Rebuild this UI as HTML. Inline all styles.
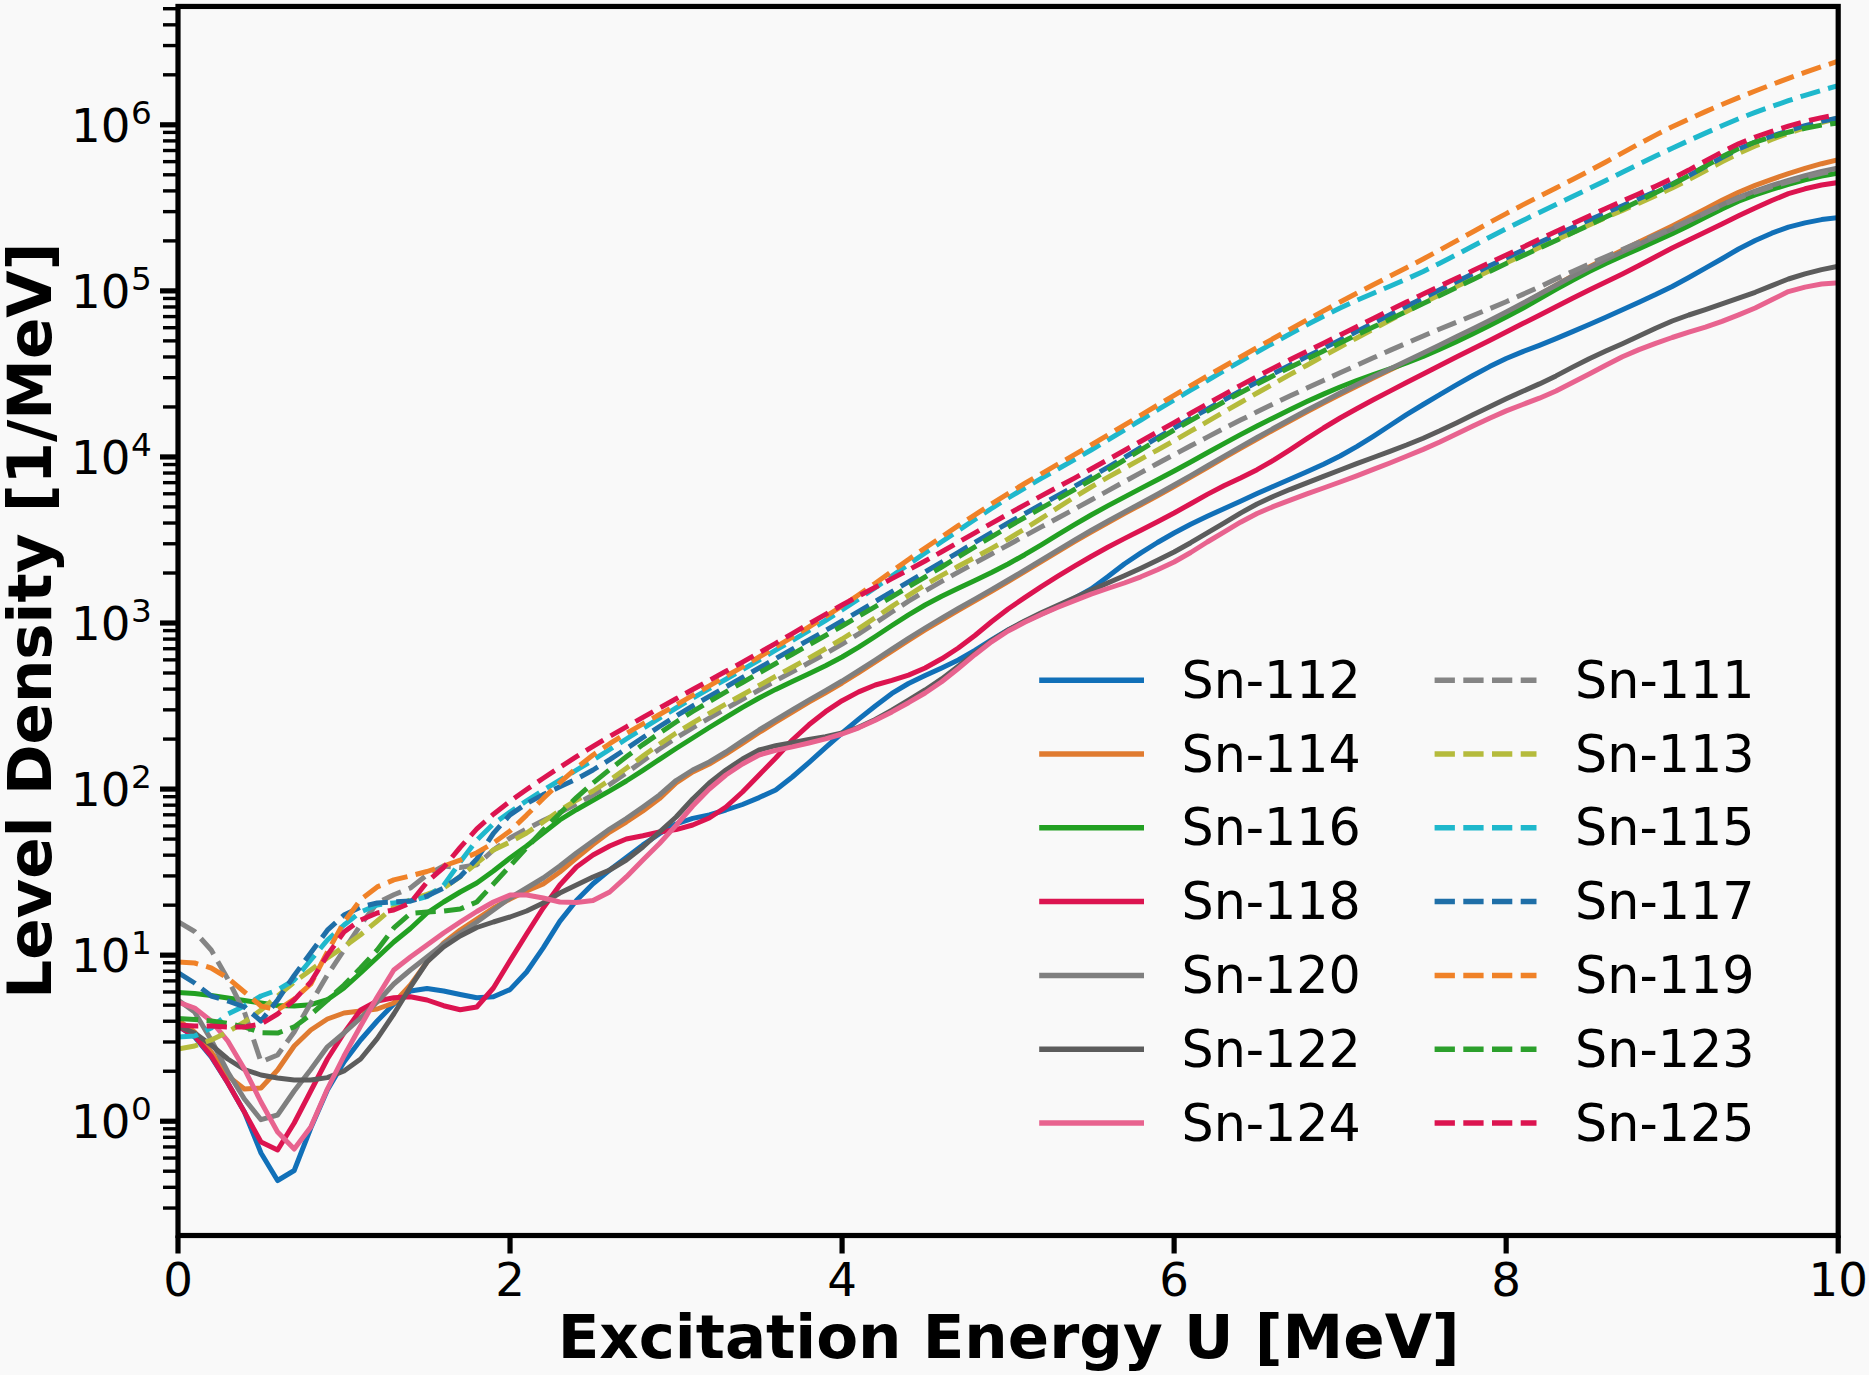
<!DOCTYPE html>
<html lang="en"><head><meta charset="utf-8"><title>Level Density</title>
<style>html,body{margin:0;padding:0;background:#f9f9f9;}body{width:1869px;height:1375px;overflow:hidden}</style></head>
<body>
<svg width="1869" height="1375" viewBox="0 0 1869 1375" style="display:block">
<rect width="1869" height="1375" fill="#f9f9f9"/>
<defs><clipPath id="ax"><rect x="178.0" y="6.45" width="1660.2" height="1229.05"/></clipPath></defs>
<g clip-path="url(#ax)" fill="none" stroke-linejoin="round">
<path d="M178.0 1026.0 L194.6 1037.0 L211.2 1057.0 L227.8 1083.0 L244.4 1112.0 L261.0 1153.0 L277.6 1180.5 L294.2 1170.5 L310.8 1128.0 L327.4 1090.0 L344.0 1062.0 L360.6 1040.0 L377.2 1021.0 L393.8 1004.0 L410.4 991.0 L427.0 988.5 L443.6 991.0 L460.2 994.5 L476.8 997.7 L493.4 996.8 L510.0 989.6 L526.6 972.0 L543.2 947.8 L559.8 921.4 L576.4 900.5 L593.0 883.8 L609.7 870.0 L626.3 857.4 L642.9 844.9 L659.5 833.7 L676.1 824.0 L692.7 818.4 L709.3 815.0 L725.9 810.0 L742.5 804.5 L759.1 797.6 L775.7 790.0 L792.3 777.0 L808.9 762.6 L825.5 747.6 L842.1 733.0 L858.7 719.2 L875.3 706.0 L891.9 693.4 L908.5 683.5 L925.1 675.5 L941.7 667.9 L958.3 660.0 L974.9 650.4 L991.5 639.9 L1008.1 630.0 L1024.7 621.6 L1041.3 613.9 L1057.9 606.4 L1074.5 598.3 L1091.1 589.0 L1107.7 576.8 L1124.3 564.0 L1140.9 552.9 L1157.5 542.5 L1174.1 533.0 L1190.7 524.3 L1207.3 516.3 L1223.9 508.7 L1240.5 501.2 L1257.1 493.6 L1273.7 486.2 L1290.3 479.0 L1306.9 471.8 L1323.5 464.2 L1340.1 456.0 L1356.7 446.6 L1373.3 436.3 L1389.9 425.5 L1406.5 414.7 L1423.2 404.5 L1439.8 394.7 L1456.4 384.9 L1473.0 375.5 L1489.6 366.6 L1506.2 358.5 L1522.8 351.6 L1539.4 345.3 L1556.0 338.6 L1572.6 331.6 L1589.2 324.5 L1605.8 317.2 L1622.4 309.8 L1639.0 302.2 L1655.6 294.6 L1672.2 286.5 L1688.8 277.5 L1705.4 268.1 L1722.0 258.7 L1738.6 249.0 L1755.2 240.5 L1771.8 233.2 L1788.4 227.1 L1805.0 222.9 L1821.6 219.6 L1838.2 217.5" stroke="#1170b8" stroke-width="5.0" stroke-linecap="square"/>
<path d="M178.0 1020.0 L194.6 1032.0 L211.2 1052.0 L227.8 1076.0 L244.4 1089.0 L261.0 1088.0 L277.6 1070.0 L294.2 1046.0 L310.8 1030.0 L327.4 1019.0 L344.0 1013.0 L360.6 1011.0 L377.2 1009.0 L393.8 1003.0 L410.4 985.0 L427.0 962.0 L443.6 943.0 L460.2 930.0 L476.8 919.0 L493.4 908.0 L510.0 899.0 L526.6 891.0 L543.2 884.0 L559.8 872.0 L576.4 858.0 L593.0 844.5 L609.7 832.0 L626.3 822.0 L642.9 811.0 L659.5 798.6 L676.1 783.0 L692.7 772.0 L709.3 764.0 L725.9 754.2 L742.5 743.3 L759.1 732.5 L775.7 722.2 L792.3 712.0 L808.9 702.1 L825.5 692.7 L842.1 683.0 L858.7 672.7 L875.3 662.0 L891.9 651.1 L908.5 640.4 L925.1 630.0 L941.7 620.1 L958.3 610.4 L974.9 600.8 L991.5 591.3 L1008.1 581.6 L1024.7 571.7 L1041.3 561.6 L1057.9 551.6 L1074.5 541.7 L1091.1 532.0 L1107.7 522.7 L1124.3 513.6 L1140.9 504.7 L1157.5 495.7 L1174.1 486.5 L1190.7 477.1 L1207.3 467.5 L1223.9 457.9 L1240.5 448.3 L1257.1 439.0 L1273.7 429.8 L1290.3 420.8 L1306.9 411.9 L1323.5 403.1 L1340.1 394.5 L1356.7 386.2 L1373.3 378.0 L1389.9 370.1 L1406.5 362.1 L1423.2 354.0 L1439.8 345.9 L1456.4 337.9 L1473.0 329.8 L1489.6 321.5 L1506.2 313.0 L1522.8 304.1 L1539.4 294.7 L1556.0 285.3 L1572.6 275.9 L1589.2 267.0 L1605.8 258.5 L1622.4 250.2 L1639.0 242.1 L1655.6 234.1 L1672.2 226.0 L1688.8 217.6 L1705.4 208.9 L1722.0 200.3 L1738.6 192.3 L1755.2 185.4 L1771.8 179.3 L1788.4 173.6 L1805.0 168.4 L1821.6 163.7 L1838.2 159.7" stroke="#e07b30" stroke-width="5.0" stroke-linecap="square"/>
<path d="M178.0 992.5 L194.6 993.5 L211.2 995.5 L227.8 998.0 L244.4 1000.5 L261.0 1003.0 L277.6 1005.5 L294.2 1006.0 L310.8 1004.7 L327.4 999.7 L344.0 988.0 L360.6 973.0 L377.2 957.5 L393.8 942.0 L410.4 928.5 L427.0 913.0 L443.6 902.0 L460.2 892.0 L476.8 883.0 L493.4 871.0 L510.0 858.0 L526.6 846.0 L543.2 833.0 L559.8 820.0 L576.4 809.7 L593.0 800.3 L609.7 790.8 L626.3 781.0 L642.9 770.4 L659.5 759.3 L676.1 748.5 L692.7 738.0 L709.3 727.5 L725.9 717.3 L742.5 707.4 L759.1 698.0 L775.7 689.4 L792.3 681.5 L808.9 673.7 L825.5 665.7 L842.1 657.0 L858.7 647.2 L875.3 636.5 L891.9 625.5 L908.5 614.8 L925.1 605.0 L941.7 596.3 L958.3 588.3 L974.9 580.5 L991.5 572.5 L1008.1 564.0 L1024.7 554.7 L1041.3 544.8 L1057.9 534.6 L1074.5 524.6 L1091.1 515.0 L1107.7 505.9 L1124.3 497.1 L1140.9 488.4 L1157.5 479.8 L1174.1 471.0 L1190.7 462.0 L1207.3 452.8 L1223.9 443.6 L1240.5 434.6 L1257.1 426.0 L1273.7 417.7 L1290.3 409.5 L1306.9 401.6 L1323.5 394.1 L1340.1 387.0 L1356.7 380.5 L1373.3 374.6 L1389.9 368.9 L1406.5 363.0 L1423.2 356.5 L1439.8 349.3 L1456.4 341.7 L1473.0 333.7 L1489.6 325.4 L1506.2 317.0 L1522.8 308.2 L1539.4 298.9 L1556.0 289.4 L1572.6 280.2 L1589.2 271.5 L1605.8 263.5 L1622.4 256.0 L1639.0 248.6 L1655.6 241.3 L1672.2 233.8 L1688.8 225.7 L1705.4 217.2 L1722.0 208.9 L1738.6 201.2 L1755.2 194.8 L1771.8 189.4 L1788.4 184.4 L1805.0 179.9 L1821.6 176.1 L1838.2 173.0" stroke="#22a022" stroke-width="5.0" stroke-linecap="square"/>
<path d="M178.0 1026.0 L194.6 1036.0 L211.2 1056.0 L227.8 1083.0 L244.4 1112.0 L261.0 1142.0 L277.6 1150.0 L294.2 1123.0 L310.8 1091.0 L327.4 1059.0 L344.0 1033.0 L360.6 1010.0 L377.2 1001.0 L393.8 997.7 L410.4 996.8 L427.0 1000.0 L443.6 1005.7 L460.2 1009.7 L476.8 1007.0 L493.4 988.0 L510.0 960.7 L526.6 934.0 L543.2 908.0 L559.8 885.0 L576.4 867.0 L593.0 855.0 L609.7 846.0 L626.3 839.0 L642.9 835.8 L659.5 832.0 L676.1 829.6 L692.7 825.0 L709.3 818.0 L725.9 807.0 L742.5 792.0 L759.1 775.0 L775.7 758.0 L792.3 740.0 L808.9 724.8 L825.5 711.7 L842.1 700.7 L858.7 691.9 L875.3 685.0 L891.9 680.4 L908.5 675.1 L925.1 668.0 L941.7 658.8 L958.3 648.0 L974.9 635.5 L991.5 621.8 L1008.1 609.0 L1024.7 597.6 L1041.3 586.6 L1057.9 576.2 L1074.5 566.2 L1091.1 556.5 L1107.7 547.3 L1124.3 538.6 L1140.9 530.2 L1157.5 521.7 L1174.1 513.0 L1190.7 503.7 L1207.3 494.4 L1223.9 485.8 L1240.5 478.0 L1257.1 469.7 L1273.7 460.1 L1290.3 449.6 L1306.9 438.7 L1323.5 428.0 L1340.1 418.0 L1356.7 408.7 L1373.3 399.8 L1389.9 391.1 L1406.5 382.6 L1423.2 374.0 L1439.8 365.5 L1456.4 357.1 L1473.0 348.7 L1489.6 340.4 L1506.2 332.0 L1522.8 323.6 L1539.4 315.2 L1556.0 306.8 L1572.6 298.3 L1589.2 290.0 L1605.8 281.9 L1622.4 273.9 L1639.0 265.5 L1655.6 256.7 L1672.2 248.0 L1688.8 239.9 L1705.4 232.0 L1722.0 223.9 L1738.6 215.8 L1755.2 208.0 L1771.8 200.5 L1788.4 193.6 L1805.0 188.8 L1821.6 185.0 L1838.2 182.5" stroke="#dc1450" stroke-width="5.0" stroke-linecap="square"/>
<path d="M178.0 1000.0 L194.6 1012.0 L211.2 1040.0 L227.8 1072.0 L244.4 1099.0 L261.0 1119.7 L277.6 1115.0 L294.2 1091.0 L310.8 1069.5 L327.4 1046.8 L344.0 1033.0 L360.6 1018.0 L377.2 1002.0 L393.8 984.0 L410.4 970.0 L427.0 957.0 L443.6 944.0 L460.2 933.0 L476.8 922.0 L493.4 910.0 L510.0 898.0 L526.6 888.0 L543.2 878.0 L559.8 866.0 L576.4 853.0 L593.0 841.0 L609.7 829.0 L626.3 818.5 L642.9 807.0 L659.5 795.0 L676.1 780.5 L692.7 770.0 L709.3 762.0 L725.9 752.0 L742.5 740.9 L759.1 730.0 L775.7 719.8 L792.3 709.9 L808.9 700.2 L825.5 690.7 L842.1 681.0 L858.7 670.7 L875.3 660.0 L891.9 649.1 L908.5 638.4 L925.1 628.0 L941.7 618.1 L958.3 608.5 L974.9 599.1 L991.5 589.6 L1008.1 580.0 L1024.7 570.1 L1041.3 560.1 L1057.9 550.1 L1074.5 540.2 L1091.1 530.5 L1107.7 521.2 L1124.3 512.1 L1140.9 503.2 L1157.5 494.2 L1174.1 485.0 L1190.7 475.6 L1207.3 466.0 L1223.9 456.4 L1240.5 446.8 L1257.1 437.5 L1273.7 428.3 L1290.3 419.3 L1306.9 410.3 L1323.5 401.6 L1340.1 393.0 L1356.7 384.7 L1373.3 376.7 L1389.9 368.9 L1406.5 361.0 L1423.2 353.0 L1439.8 344.9 L1456.4 336.8 L1473.0 328.7 L1489.6 320.4 L1506.2 312.0 L1522.8 303.3 L1539.4 294.2 L1556.0 285.2 L1572.6 276.2 L1589.2 267.7 L1605.8 259.6 L1622.4 251.8 L1639.0 244.2 L1655.6 236.6 L1672.2 229.0 L1688.8 221.1 L1705.4 212.9 L1722.0 204.8 L1738.6 197.4 L1755.2 191.0 L1771.8 185.4 L1788.4 180.3 L1805.0 175.6 L1821.6 171.5 L1838.2 168.0" stroke="#7f7f7f" stroke-width="5.0" stroke-linecap="square"/>
<path d="M178.0 1026.0 L194.6 1033.0 L211.2 1045.0 L227.8 1059.0 L244.4 1069.5 L261.0 1075.0 L277.6 1078.0 L294.2 1080.0 L310.8 1080.0 L327.4 1077.6 L344.0 1071.0 L360.6 1059.0 L377.2 1038.7 L393.8 1014.0 L410.4 987.0 L427.0 962.0 L443.6 947.0 L460.2 936.0 L476.8 927.5 L493.4 922.0 L510.0 917.0 L526.6 911.0 L543.2 903.0 L559.8 893.0 L576.4 885.0 L593.0 877.0 L609.7 870.0 L626.3 860.0 L642.9 847.0 L659.5 832.0 L676.1 817.0 L692.7 799.0 L709.3 783.0 L725.9 770.0 L742.5 759.0 L759.1 750.0 L775.7 745.7 L792.3 742.6 L808.9 739.4 L825.5 736.6 L842.1 733.0 L858.7 727.3 L875.3 719.5 L891.9 710.2 L908.5 700.2 L925.1 690.0 L941.7 678.9 L958.3 666.2 L974.9 653.2 L991.5 640.7 L1008.1 630.0 L1024.7 621.0 L1041.3 612.8 L1057.9 605.2 L1074.5 597.9 L1091.1 590.4 L1107.7 583.0 L1124.3 575.8 L1140.9 568.2 L1157.5 560.3 L1174.1 552.0 L1190.7 542.7 L1207.3 532.9 L1223.9 523.1 L1240.5 513.1 L1257.1 504.0 L1273.7 496.3 L1290.3 489.3 L1306.9 482.8 L1323.5 476.4 L1340.1 470.0 L1356.7 463.6 L1373.3 457.5 L1389.9 451.3 L1406.5 445.0 L1423.2 438.2 L1439.8 430.8 L1456.4 422.9 L1473.0 414.8 L1489.6 406.7 L1506.2 398.8 L1522.8 391.3 L1539.4 383.9 L1556.0 375.9 L1572.6 367.1 L1589.2 358.7 L1605.8 351.1 L1622.4 343.7 L1639.0 336.1 L1655.6 328.2 L1672.2 321.0 L1688.8 315.0 L1705.4 309.6 L1722.0 303.9 L1738.6 298.2 L1755.2 292.3 L1771.8 285.6 L1788.4 279.0 L1805.0 273.8 L1821.6 269.6 L1838.2 266.3" stroke="#5c5c5c" stroke-width="5.0" stroke-linecap="square"/>
<path d="M178.0 1002.0 L194.6 1008.0 L211.2 1021.0 L227.8 1041.0 L244.4 1069.0 L261.0 1102.0 L277.6 1132.0 L294.2 1149.0 L310.8 1127.0 L327.4 1089.0 L344.0 1056.0 L360.6 1026.0 L377.2 997.0 L393.8 970.0 L410.4 957.0 L427.0 945.0 L443.6 933.0 L460.2 922.0 L476.8 911.5 L493.4 902.0 L510.0 895.0 L526.6 895.0 L543.2 898.0 L559.8 902.0 L576.4 902.6 L593.0 900.5 L609.7 892.0 L626.3 876.9 L642.9 860.0 L659.5 843.5 L676.1 825.4 L692.7 806.0 L709.3 789.0 L725.9 775.0 L742.5 764.0 L759.1 755.0 L775.7 750.4 L792.3 746.9 L808.9 743.0 L825.5 738.9 L842.1 734.0 L858.7 727.8 L875.3 720.3 L891.9 711.9 L908.5 702.7 L925.1 693.0 L941.7 681.7 L958.3 668.5 L974.9 654.7 L991.5 641.8 L1008.1 631.0 L1024.7 622.3 L1041.3 614.4 L1057.9 607.3 L1074.5 600.6 L1091.1 594.2 L1107.7 588.5 L1124.3 583.0 L1140.9 576.8 L1157.5 569.8 L1174.1 562.0 L1190.7 552.5 L1207.3 542.0 L1223.9 532.1 L1240.5 522.2 L1257.1 513.5 L1273.7 506.4 L1290.3 500.1 L1306.9 493.9 L1323.5 488.0 L1340.1 482.0 L1356.7 475.8 L1373.3 469.4 L1389.9 463.0 L1406.5 456.3 L1423.2 449.4 L1439.8 442.0 L1456.4 434.1 L1473.0 426.1 L1489.6 418.2 L1506.2 410.9 L1522.8 404.5 L1539.4 398.2 L1556.0 391.0 L1572.6 382.6 L1589.2 374.0 L1605.8 365.3 L1622.4 356.8 L1639.0 349.6 L1655.6 343.3 L1672.2 337.5 L1688.8 332.2 L1705.4 327.2 L1722.0 321.4 L1738.6 314.9 L1755.2 308.0 L1771.8 299.7 L1788.4 291.6 L1805.0 287.1 L1821.6 284.0 L1838.2 282.7" stroke="#e8638f" stroke-width="5.0" stroke-linecap="square"/>
<path d="M178.0 921.7 L194.6 931.5 L211.2 950.0 L227.8 979.0 L244.4 1012.0 L261.0 1062.0 L277.6 1055.0 L294.2 1032.0 L310.8 1003.0 L327.4 975.0 L344.0 950.0 L360.6 925.0 L377.2 903.0 L393.8 894.8 L410.4 888.0 L427.0 874.8 L443.6 866.0 L460.2 867.5 L476.8 864.7 L493.4 850.0 L510.0 838.0 L526.6 829.0 L543.2 820.6 L559.8 812.4 L576.4 804.1 L593.0 795.0 L609.7 784.5 L626.3 773.0 L642.9 760.9 L659.5 749.0 L676.1 738.0 L692.7 727.8 L709.3 718.1 L725.9 708.7 L742.5 699.3 L759.1 690.0 L775.7 680.8 L792.3 671.8 L808.9 662.8 L825.5 653.6 L842.1 644.0 L858.7 633.8 L875.3 623.0 L891.9 612.0 L908.5 601.2 L925.1 591.0 L941.7 581.4 L958.3 572.1 L974.9 563.0 L991.5 554.0 L1008.1 545.0 L1024.7 535.9 L1041.3 526.9 L1057.9 518.0 L1074.5 509.0 L1091.1 500.0 L1107.7 490.9 L1124.3 481.7 L1140.9 472.6 L1157.5 463.5 L1174.1 454.6 L1190.7 445.8 L1207.3 437.1 L1223.9 428.5 L1240.5 420.1 L1257.1 411.8 L1273.7 403.7 L1290.3 395.8 L1306.9 388.1 L1323.5 380.4 L1340.1 372.8 L1356.7 365.3 L1373.3 357.8 L1389.9 350.4 L1406.5 343.2 L1423.2 336.0 L1439.8 329.0 L1456.4 322.3 L1473.0 315.5 L1489.6 308.7 L1506.2 301.7 L1522.8 294.4 L1539.4 286.8 L1556.0 279.1 L1572.6 271.5 L1589.2 264.0 L1605.8 256.7 L1622.4 249.5 L1639.0 242.3 L1655.6 235.2 L1672.2 228.0 L1688.8 220.5 L1705.4 212.8 L1722.0 205.1 L1738.6 198.1 L1755.2 192.0 L1771.8 186.7 L1788.4 181.8 L1805.0 177.3 L1821.6 173.3 L1838.2 170.0" stroke="#858585" stroke-width="5.0" stroke-dasharray="20.3 8.4" stroke-linecap="butt"/>
<path d="M178.0 1049.0 L194.6 1046.0 L211.2 1040.0 L227.8 1032.0 L244.4 1022.0 L261.0 1010.0 L277.6 996.0 L294.2 982.0 L310.8 970.0 L327.4 958.0 L344.0 946.8 L360.6 934.7 L377.2 921.0 L393.8 907.1 L410.4 900.0 L427.0 894.3 L443.6 888.0 L460.2 876.6 L476.8 863.1 L493.4 850.0 L510.0 842.0 L526.6 833.0 L543.2 822.0 L559.8 810.5 L576.4 800.2 L593.0 791.0 L609.7 780.1 L626.3 768.3 L642.9 756.1 L659.5 744.1 L676.1 733.0 L692.7 722.9 L709.3 713.3 L725.9 704.0 L742.5 694.8 L759.1 685.5 L775.7 676.2 L792.3 667.2 L808.9 658.1 L825.5 648.7 L842.1 639.0 L858.7 628.6 L875.3 617.6 L891.9 606.4 L908.5 595.4 L925.1 585.0 L941.7 575.4 L958.3 566.3 L974.9 557.5 L991.5 548.4 L1008.1 539.0 L1024.7 528.9 L1041.3 518.4 L1057.9 507.7 L1074.5 497.1 L1091.1 487.0 L1107.7 477.4 L1124.3 468.2 L1140.9 459.1 L1157.5 450.0 L1174.1 440.7 L1190.7 431.2 L1207.3 421.6 L1223.9 412.0 L1240.5 402.5 L1257.1 393.0 L1273.7 383.7 L1290.3 374.4 L1306.9 365.2 L1323.5 356.0 L1340.1 347.0 L1356.7 338.0 L1373.3 329.1 L1389.9 320.2 L1406.5 311.5 L1423.2 303.0 L1439.8 294.7 L1456.4 286.6 L1473.0 278.7 L1489.6 270.8 L1506.2 263.0 L1522.8 255.3 L1539.4 247.6 L1556.0 240.0 L1572.6 232.5 L1589.2 225.0 L1605.8 217.6 L1622.4 210.4 L1639.0 203.1 L1655.6 195.7 L1672.2 188.0 L1688.8 179.7 L1705.4 170.8 L1722.0 161.8 L1738.6 153.4 L1755.2 146.0 L1771.8 139.5 L1788.4 133.3 L1805.0 127.7 L1821.6 122.5 L1838.2 118.0" stroke="#b5bb3c" stroke-width="5.0" stroke-dasharray="20.3 8.4" stroke-linecap="butt"/>
<path d="M178.0 1037.0 L194.6 1036.0 L211.2 1028.0 L227.8 1014.0 L244.4 1006.0 L261.0 996.0 L277.6 990.0 L294.2 980.0 L310.8 960.0 L327.4 940.0 L344.0 925.0 L360.6 912.0 L377.2 905.0 L393.8 902.9 L410.4 901.0 L427.0 896.6 L443.6 885.4 L460.2 862.0 L476.8 840.2 L493.4 823.9 L510.0 812.0 L526.6 800.8 L543.2 790.3 L559.8 780.2 L576.4 770.2 L593.0 760.0 L609.7 749.5 L626.3 739.0 L642.9 728.5 L659.5 718.1 L676.1 708.0 L692.7 698.2 L709.3 688.6 L725.9 679.2 L742.5 669.7 L759.1 660.0 L775.7 650.2 L792.3 640.5 L808.9 630.6 L825.5 620.5 L842.1 610.0 L858.7 599.0 L875.3 587.6 L891.9 576.0 L908.5 564.4 L925.1 553.0 L941.7 541.8 L958.3 530.5 L974.9 519.4 L991.5 508.5 L1008.1 498.0 L1024.7 488.0 L1041.3 478.4 L1057.9 469.0 L1074.5 459.6 L1091.1 450.0 L1107.7 440.1 L1124.3 430.0 L1140.9 420.0 L1157.5 409.9 L1174.1 400.0 L1190.7 390.2 L1207.3 380.5 L1223.9 370.8 L1240.5 361.3 L1257.1 352.0 L1273.7 342.8 L1290.3 333.7 L1306.9 324.8 L1323.5 316.2 L1340.1 308.0 L1356.7 300.4 L1373.3 293.2 L1389.9 286.2 L1406.5 279.1 L1423.2 271.5 L1439.8 263.3 L1456.4 254.7 L1473.0 246.0 L1489.6 237.2 L1506.2 228.7 L1522.8 220.5 L1539.4 212.4 L1556.0 204.5 L1572.6 196.5 L1589.2 188.5 L1605.8 180.4 L1622.4 172.2 L1639.0 164.0 L1655.6 156.0 L1672.2 148.2 L1688.8 140.6 L1705.4 133.1 L1722.0 125.8 L1738.6 118.8 L1755.2 112.4 L1771.8 106.4 L1788.4 100.7 L1805.0 95.3 L1821.6 90.3 L1838.2 85.6" stroke="#1fb8cc" stroke-width="5.0" stroke-dasharray="20.3 8.4" stroke-linecap="butt"/>
<path d="M178.0 972.6 L194.6 983.0 L211.2 996.0 L227.8 1001.0 L244.4 1007.0 L261.0 1021.0 L277.6 1000.0 L294.2 975.5 L310.8 952.7 L327.4 930.2 L344.0 915.0 L360.6 907.0 L377.2 903.0 L393.8 902.0 L410.4 901.0 L427.0 896.0 L443.6 888.1 L460.2 876.5 L476.8 858.9 L493.4 833.3 L510.0 814.9 L526.6 803.6 L543.2 794.6 L559.8 786.8 L576.4 779.0 L593.0 770.0 L609.7 759.6 L626.3 748.7 L642.9 737.5 L659.5 726.5 L676.1 716.0 L692.7 706.0 L709.3 696.3 L725.9 686.9 L742.5 677.4 L759.1 668.0 L775.7 658.6 L792.3 649.2 L808.9 639.9 L825.5 630.5 L842.1 621.0 L858.7 611.3 L875.3 601.5 L891.9 591.7 L908.5 581.8 L925.1 572.0 L941.7 562.2 L958.3 552.3 L974.9 542.4 L991.5 532.6 L1008.1 523.0 L1024.7 513.7 L1041.3 504.5 L1057.9 495.5 L1074.5 486.3 L1091.1 477.0 L1107.7 467.3 L1124.3 457.5 L1140.9 447.5 L1157.5 437.7 L1174.1 428.0 L1190.7 418.5 L1207.3 409.2 L1223.9 400.0 L1240.5 390.9 L1257.1 382.0 L1273.7 373.4 L1290.3 364.9 L1306.9 356.6 L1323.5 348.3 L1340.1 340.0 L1356.7 331.6 L1373.3 323.1 L1389.9 314.7 L1406.5 306.3 L1423.2 298.0 L1439.8 289.8 L1456.4 281.8 L1473.0 273.8 L1489.6 265.8 L1506.2 258.0 L1522.8 250.2 L1539.4 242.6 L1556.0 235.0 L1572.6 227.4 L1589.2 220.0 L1605.8 212.8 L1622.4 205.7 L1639.0 198.7 L1655.6 191.5 L1672.2 184.0 L1688.8 175.6 L1705.4 166.6 L1722.0 157.5 L1738.6 149.0 L1755.2 142.0 L1771.8 136.1 L1788.4 130.6 L1805.0 125.7 L1821.6 121.4 L1838.2 118.0" stroke="#1f6fa8" stroke-width="5.0" stroke-dasharray="20.3 8.4" stroke-linecap="butt"/>
<path d="M178.0 962.0 L194.6 963.0 L211.2 968.0 L227.8 978.0 L244.4 992.0 L261.0 1006.0 L277.6 1010.0 L294.2 999.0 L310.8 984.0 L327.4 952.0 L344.0 922.0 L360.6 899.6 L377.2 886.9 L393.8 879.9 L410.4 875.9 L427.0 871.5 L443.6 866.0 L460.2 860.2 L476.8 852.7 L493.4 843.0 L510.0 831.0 L526.6 815.1 L543.2 798.4 L559.8 782.7 L576.4 768.0 L593.0 755.0 L609.7 743.7 L626.3 733.4 L642.9 723.9 L659.5 714.5 L676.1 705.0 L692.7 695.3 L709.3 685.8 L725.9 676.3 L742.5 666.8 L759.1 657.0 L775.7 647.1 L792.3 637.1 L808.9 627.0 L825.5 616.7 L842.1 606.0 L858.7 594.8 L875.3 583.2 L891.9 571.3 L908.5 559.5 L925.1 548.0 L941.7 536.8 L958.3 525.7 L974.9 514.8 L991.5 504.0 L1008.1 493.6 L1024.7 483.5 L1041.3 473.8 L1057.9 464.2 L1074.5 454.7 L1091.1 445.0 L1107.7 435.1 L1124.3 425.1 L1140.9 415.2 L1157.5 405.2 L1174.1 395.4 L1190.7 385.7 L1207.3 376.0 L1223.9 366.5 L1240.5 357.0 L1257.1 347.6 L1273.7 338.3 L1290.3 329.1 L1306.9 319.9 L1323.5 310.9 L1340.1 302.0 L1356.7 293.3 L1373.3 284.7 L1389.9 276.2 L1406.5 267.7 L1423.2 259.0 L1439.8 250.0 L1456.4 240.9 L1473.0 231.7 L1489.6 222.5 L1506.2 213.6 L1522.8 204.9 L1539.4 196.4 L1556.0 188.0 L1572.6 179.5 L1589.2 170.9 L1605.8 162.0 L1622.4 152.9 L1639.0 143.8 L1655.6 135.1 L1672.2 126.8 L1688.8 119.1 L1705.4 111.6 L1722.0 104.5 L1738.6 97.6 L1755.2 91.0 L1771.8 84.6 L1788.4 78.4 L1805.0 72.4 L1821.6 66.7 L1838.2 61.2" stroke="#f08228" stroke-width="5.0" stroke-dasharray="20.3 8.4" stroke-linecap="butt"/>
<path d="M178.0 1018.5 L194.6 1019.4 L211.2 1021.0 L227.8 1023.5 L244.4 1027.0 L261.0 1032.6 L277.6 1033.1 L294.2 1026.9 L310.8 1014.6 L327.4 1000.0 L344.0 985.0 L360.6 968.0 L377.2 950.0 L393.8 927.9 L410.4 913.5 L427.0 912.0 L443.6 911.0 L460.2 909.0 L476.8 902.0 L493.4 884.0 L510.0 866.0 L526.6 847.7 L543.2 830.0 L559.8 813.4 L576.4 797.6 L593.0 783.0 L609.7 769.5 L626.3 756.8 L642.9 744.6 L659.5 733.1 L676.1 722.0 L692.7 711.5 L709.3 701.5 L725.9 691.9 L742.5 682.5 L759.1 673.0 L775.7 663.5 L792.3 654.2 L808.9 644.8 L825.5 635.5 L842.1 626.0 L858.7 616.3 L875.3 606.6 L891.9 596.8 L908.5 586.9 L925.1 577.0 L941.7 567.0 L958.3 556.9 L974.9 546.8 L991.5 536.8 L1008.1 527.0 L1024.7 517.5 L1041.3 508.1 L1057.9 498.9 L1074.5 489.5 L1091.1 480.0 L1107.7 470.1 L1124.3 460.0 L1140.9 449.8 L1157.5 439.8 L1174.1 430.0 L1190.7 420.5 L1207.3 411.1 L1223.9 401.8 L1240.5 392.8 L1257.1 384.0 L1273.7 375.5 L1290.3 367.2 L1306.9 359.1 L1323.5 351.0 L1340.1 343.0 L1356.7 335.0 L1373.3 327.1 L1389.9 319.3 L1406.5 311.4 L1423.2 303.5 L1439.8 295.5 L1456.4 287.5 L1473.0 279.4 L1489.6 271.4 L1506.2 263.5 L1522.8 255.7 L1539.4 248.1 L1556.0 240.5 L1572.6 232.8 L1589.2 225.0 L1605.8 217.1 L1622.4 209.0 L1639.0 200.9 L1655.6 192.8 L1672.2 184.5 L1688.8 175.6 L1705.4 166.1 L1722.0 156.8 L1738.6 148.5 L1755.2 142.0 L1771.8 136.9 L1788.4 132.2 L1805.0 128.2 L1821.6 125.1 L1838.2 123.0" stroke="#2ca02c" stroke-width="5.0" stroke-dasharray="20.3 8.4" stroke-linecap="butt"/>
<path d="M178.0 1025.0 L194.6 1026.0 L211.2 1026.0 L227.8 1027.0 L244.4 1027.0 L261.0 1024.0 L277.6 1014.0 L294.2 1000.0 L310.8 982.0 L327.4 955.0 L344.0 932.0 L360.6 920.0 L377.2 913.0 L393.8 910.0 L410.4 903.0 L427.0 882.0 L443.6 867.5 L460.2 847.3 L476.8 828.9 L493.4 814.2 L510.0 801.3 L526.6 789.5 L543.2 778.2 L559.8 767.3 L576.4 756.7 L593.0 746.4 L609.7 736.4 L626.3 726.8 L642.9 717.4 L659.5 708.1 L676.1 698.8 L692.7 689.5 L709.3 680.4 L725.9 671.3 L742.5 662.1 L759.1 652.8 L775.7 643.3 L792.3 633.6 L808.9 623.9 L825.5 614.3 L842.1 605.0 L858.7 596.0 L875.3 587.3 L891.9 578.6 L908.5 569.9 L925.1 561.0 L941.7 551.8 L958.3 542.3 L974.9 532.8 L991.5 523.3 L1008.1 514.0 L1024.7 504.9 L1041.3 495.9 L1057.9 487.0 L1074.5 478.1 L1091.1 469.0 L1107.7 459.8 L1124.3 450.5 L1140.9 441.2 L1157.5 431.9 L1174.1 422.6 L1190.7 413.3 L1207.3 403.9 L1223.9 394.6 L1240.5 385.4 L1257.1 376.5 L1273.7 367.9 L1290.3 359.6 L1306.9 351.4 L1323.5 343.2 L1340.1 335.0 L1356.7 326.7 L1373.3 318.5 L1389.9 310.2 L1406.5 302.1 L1423.2 294.0 L1439.8 286.1 L1456.4 278.3 L1473.0 270.5 L1489.6 262.8 L1506.2 255.0 L1522.8 247.2 L1539.4 239.3 L1556.0 231.5 L1572.6 223.7 L1589.2 216.0 L1605.8 208.5 L1622.4 201.1 L1639.0 193.7 L1655.6 186.2 L1672.2 178.5 L1688.8 170.1 L1705.4 161.0 L1722.0 152.0 L1738.6 143.8 L1755.2 137.0 L1771.8 131.3 L1788.4 126.1 L1805.0 121.5 L1821.6 117.6 L1838.2 114.5" stroke="#dc1450" stroke-width="5.0" stroke-dasharray="20.3 8.4" stroke-linecap="butt"/>
</g>
<g stroke="#000" fill="none">
<line x1="160.0" x2="178.0" y1="1121.22" y2="1121.22" stroke-width="5.2"/>
<line x1="160.0" x2="178.0" y1="955.15" y2="955.15" stroke-width="5.2"/>
<line x1="160.0" x2="178.0" y1="789.08" y2="789.08" stroke-width="5.2"/>
<line x1="160.0" x2="178.0" y1="623.01" y2="623.01" stroke-width="5.2"/>
<line x1="160.0" x2="178.0" y1="456.94" y2="456.94" stroke-width="5.2"/>
<line x1="160.0" x2="178.0" y1="290.87" y2="290.87" stroke-width="5.2"/>
<line x1="160.0" x2="178.0" y1="124.80" y2="124.80" stroke-width="5.2"/>
<line x1="163.0" x2="178.0" y1="1208.05" y2="1208.05" stroke-width="3.4"/>
<line x1="163.0" x2="178.0" y1="1187.31" y2="1187.31" stroke-width="3.4"/>
<line x1="163.0" x2="178.0" y1="1171.21" y2="1171.21" stroke-width="3.4"/>
<line x1="163.0" x2="178.0" y1="1158.06" y2="1158.06" stroke-width="3.4"/>
<line x1="163.0" x2="178.0" y1="1146.94" y2="1146.94" stroke-width="3.4"/>
<line x1="163.0" x2="178.0" y1="1137.31" y2="1137.31" stroke-width="3.4"/>
<line x1="163.0" x2="178.0" y1="1128.82" y2="1128.82" stroke-width="3.4"/>
<line x1="163.0" x2="178.0" y1="1071.23" y2="1071.23" stroke-width="3.4"/>
<line x1="163.0" x2="178.0" y1="1041.98" y2="1041.98" stroke-width="3.4"/>
<line x1="163.0" x2="178.0" y1="1021.24" y2="1021.24" stroke-width="3.4"/>
<line x1="163.0" x2="178.0" y1="1005.14" y2="1005.14" stroke-width="3.4"/>
<line x1="163.0" x2="178.0" y1="991.99" y2="991.99" stroke-width="3.4"/>
<line x1="163.0" x2="178.0" y1="980.87" y2="980.87" stroke-width="3.4"/>
<line x1="163.0" x2="178.0" y1="971.24" y2="971.24" stroke-width="3.4"/>
<line x1="163.0" x2="178.0" y1="962.75" y2="962.75" stroke-width="3.4"/>
<line x1="163.0" x2="178.0" y1="905.16" y2="905.16" stroke-width="3.4"/>
<line x1="163.0" x2="178.0" y1="875.91" y2="875.91" stroke-width="3.4"/>
<line x1="163.0" x2="178.0" y1="855.17" y2="855.17" stroke-width="3.4"/>
<line x1="163.0" x2="178.0" y1="839.07" y2="839.07" stroke-width="3.4"/>
<line x1="163.0" x2="178.0" y1="825.92" y2="825.92" stroke-width="3.4"/>
<line x1="163.0" x2="178.0" y1="814.80" y2="814.80" stroke-width="3.4"/>
<line x1="163.0" x2="178.0" y1="805.17" y2="805.17" stroke-width="3.4"/>
<line x1="163.0" x2="178.0" y1="796.68" y2="796.68" stroke-width="3.4"/>
<line x1="163.0" x2="178.0" y1="739.09" y2="739.09" stroke-width="3.4"/>
<line x1="163.0" x2="178.0" y1="709.84" y2="709.84" stroke-width="3.4"/>
<line x1="163.0" x2="178.0" y1="689.10" y2="689.10" stroke-width="3.4"/>
<line x1="163.0" x2="178.0" y1="673.00" y2="673.00" stroke-width="3.4"/>
<line x1="163.0" x2="178.0" y1="659.85" y2="659.85" stroke-width="3.4"/>
<line x1="163.0" x2="178.0" y1="648.73" y2="648.73" stroke-width="3.4"/>
<line x1="163.0" x2="178.0" y1="639.10" y2="639.10" stroke-width="3.4"/>
<line x1="163.0" x2="178.0" y1="630.61" y2="630.61" stroke-width="3.4"/>
<line x1="163.0" x2="178.0" y1="573.02" y2="573.02" stroke-width="3.4"/>
<line x1="163.0" x2="178.0" y1="543.77" y2="543.77" stroke-width="3.4"/>
<line x1="163.0" x2="178.0" y1="523.03" y2="523.03" stroke-width="3.4"/>
<line x1="163.0" x2="178.0" y1="506.93" y2="506.93" stroke-width="3.4"/>
<line x1="163.0" x2="178.0" y1="493.78" y2="493.78" stroke-width="3.4"/>
<line x1="163.0" x2="178.0" y1="482.66" y2="482.66" stroke-width="3.4"/>
<line x1="163.0" x2="178.0" y1="473.03" y2="473.03" stroke-width="3.4"/>
<line x1="163.0" x2="178.0" y1="464.54" y2="464.54" stroke-width="3.4"/>
<line x1="163.0" x2="178.0" y1="406.95" y2="406.95" stroke-width="3.4"/>
<line x1="163.0" x2="178.0" y1="377.70" y2="377.70" stroke-width="3.4"/>
<line x1="163.0" x2="178.0" y1="356.96" y2="356.96" stroke-width="3.4"/>
<line x1="163.0" x2="178.0" y1="340.86" y2="340.86" stroke-width="3.4"/>
<line x1="163.0" x2="178.0" y1="327.71" y2="327.71" stroke-width="3.4"/>
<line x1="163.0" x2="178.0" y1="316.59" y2="316.59" stroke-width="3.4"/>
<line x1="163.0" x2="178.0" y1="306.96" y2="306.96" stroke-width="3.4"/>
<line x1="163.0" x2="178.0" y1="298.47" y2="298.47" stroke-width="3.4"/>
<line x1="163.0" x2="178.0" y1="240.88" y2="240.88" stroke-width="3.4"/>
<line x1="163.0" x2="178.0" y1="211.63" y2="211.63" stroke-width="3.4"/>
<line x1="163.0" x2="178.0" y1="190.89" y2="190.89" stroke-width="3.4"/>
<line x1="163.0" x2="178.0" y1="174.79" y2="174.79" stroke-width="3.4"/>
<line x1="163.0" x2="178.0" y1="161.64" y2="161.64" stroke-width="3.4"/>
<line x1="163.0" x2="178.0" y1="150.52" y2="150.52" stroke-width="3.4"/>
<line x1="163.0" x2="178.0" y1="140.89" y2="140.89" stroke-width="3.4"/>
<line x1="163.0" x2="178.0" y1="132.40" y2="132.40" stroke-width="3.4"/>
<line x1="163.0" x2="178.0" y1="74.81" y2="74.81" stroke-width="3.4"/>
<line x1="163.0" x2="178.0" y1="45.56" y2="45.56" stroke-width="3.4"/>
<line x1="163.0" x2="178.0" y1="24.82" y2="24.82" stroke-width="3.4"/>
<line x1="163.0" x2="178.0" y1="8.72" y2="8.72" stroke-width="3.4"/>
<line x1="178.00" x2="178.00" y1="1235.5" y2="1253.5" stroke-width="5.2"/>
<line x1="510.04" x2="510.04" y1="1235.5" y2="1253.5" stroke-width="5.2"/>
<line x1="842.08" x2="842.08" y1="1235.5" y2="1253.5" stroke-width="5.2"/>
<line x1="1174.12" x2="1174.12" y1="1235.5" y2="1253.5" stroke-width="5.2"/>
<line x1="1506.16" x2="1506.16" y1="1235.5" y2="1253.5" stroke-width="5.2"/>
<line x1="1838.20" x2="1838.20" y1="1235.5" y2="1253.5" stroke-width="5.2"/>
<rect x="178.0" y="6.45" width="1660.2" height="1229.05" stroke-width="5.2" stroke-linejoin="miter"/>
</g>
<g font-family="DejaVu Sans, Liberation Sans, sans-serif" fill="#000">
<text x="178.0" y="1295.6" font-size="46.7" text-anchor="middle">0</text>
<text x="510.0" y="1295.6" font-size="46.7" text-anchor="middle">2</text>
<text x="842.1" y="1295.6" font-size="46.7" text-anchor="middle">4</text>
<text x="1174.1" y="1295.6" font-size="46.7" text-anchor="middle">6</text>
<text x="1506.2" y="1295.6" font-size="46.7" text-anchor="middle">8</text>
<text x="1838.2" y="1295.6" font-size="46.7" text-anchor="middle">10</text>
<text x="71.1" y="1138.0" font-size="46.7">10<tspan dy="-17.6" font-size="32.69" dx="0.6">0</tspan></text>
<text x="71.1" y="971.9" font-size="46.7">10<tspan dy="-17.6" font-size="32.69" dx="0.6">1</tspan></text>
<text x="71.1" y="805.9" font-size="46.7">10<tspan dy="-17.6" font-size="32.69" dx="0.6">2</tspan></text>
<text x="71.1" y="639.8" font-size="46.7">10<tspan dy="-17.6" font-size="32.69" dx="0.6">3</tspan></text>
<text x="71.1" y="473.7" font-size="46.7">10<tspan dy="-17.6" font-size="32.69" dx="0.6">4</tspan></text>
<text x="71.1" y="307.7" font-size="46.7">10<tspan dy="-17.6" font-size="32.69" dx="0.6">5</tspan></text>
<text x="71.1" y="141.6" font-size="46.7">10<tspan dy="-17.6" font-size="32.69" dx="0.6">6</tspan></text>
<text x="1008.7" y="1357.7" font-size="61" font-weight="bold" text-anchor="middle">Excitation Energy U [MeV]</text>
<text transform="translate(50.6 620.6) rotate(-90)" font-size="61" font-weight="bold" text-anchor="middle">Level Density [1/MeV]</text>
<line x1="1039.2" x2="1144" y1="680.2" y2="680.2" stroke="#1170b8" stroke-width="5.5"/>
<text x="1181.5" y="697.8" font-size="50.7">Sn-112</text>
<line x1="1039.2" x2="1144" y1="754.0" y2="754.0" stroke="#e07b30" stroke-width="5.5"/>
<text x="1181.5" y="771.6" font-size="50.7">Sn-114</text>
<line x1="1039.2" x2="1144" y1="827.8" y2="827.8" stroke="#22a022" stroke-width="5.5"/>
<text x="1181.5" y="845.4" font-size="50.7">Sn-116</text>
<line x1="1039.2" x2="1144" y1="901.6" y2="901.6" stroke="#dc1450" stroke-width="5.5"/>
<text x="1181.5" y="919.2" font-size="50.7">Sn-118</text>
<line x1="1039.2" x2="1144" y1="975.4" y2="975.4" stroke="#7f7f7f" stroke-width="5.5"/>
<text x="1181.5" y="993.0" font-size="50.7">Sn-120</text>
<line x1="1039.2" x2="1144" y1="1049.2" y2="1049.2" stroke="#5c5c5c" stroke-width="5.5"/>
<text x="1181.5" y="1066.8" font-size="50.7">Sn-122</text>
<line x1="1039.2" x2="1144" y1="1123.0" y2="1123.0" stroke="#e8638f" stroke-width="5.5"/>
<text x="1181.5" y="1140.6" font-size="50.7">Sn-124</text>
<line x1="1434.6" x2="1536.5" y1="680.2" y2="680.2" stroke="#858585" stroke-width="5.5" stroke-dasharray="20.3 8.4"/>
<text x="1575.1" y="697.8" font-size="50.7">Sn-111</text>
<line x1="1434.6" x2="1536.5" y1="754.0" y2="754.0" stroke="#b5bb3c" stroke-width="5.5" stroke-dasharray="20.3 8.4"/>
<text x="1575.1" y="771.6" font-size="50.7">Sn-113</text>
<line x1="1434.6" x2="1536.5" y1="827.8" y2="827.8" stroke="#1fb8cc" stroke-width="5.5" stroke-dasharray="20.3 8.4"/>
<text x="1575.1" y="845.4" font-size="50.7">Sn-115</text>
<line x1="1434.6" x2="1536.5" y1="901.6" y2="901.6" stroke="#1f6fa8" stroke-width="5.5" stroke-dasharray="20.3 8.4"/>
<text x="1575.1" y="919.2" font-size="50.7">Sn-117</text>
<line x1="1434.6" x2="1536.5" y1="975.4" y2="975.4" stroke="#f08228" stroke-width="5.5" stroke-dasharray="20.3 8.4"/>
<text x="1575.1" y="993.0" font-size="50.7">Sn-119</text>
<line x1="1434.6" x2="1536.5" y1="1049.2" y2="1049.2" stroke="#2ca02c" stroke-width="5.5" stroke-dasharray="20.3 8.4"/>
<text x="1575.1" y="1066.8" font-size="50.7">Sn-123</text>
<line x1="1434.6" x2="1536.5" y1="1123.0" y2="1123.0" stroke="#dc1450" stroke-width="5.5" stroke-dasharray="20.3 8.4"/>
<text x="1575.1" y="1140.6" font-size="50.7">Sn-125</text>
</g>
</svg>
</body></html>
